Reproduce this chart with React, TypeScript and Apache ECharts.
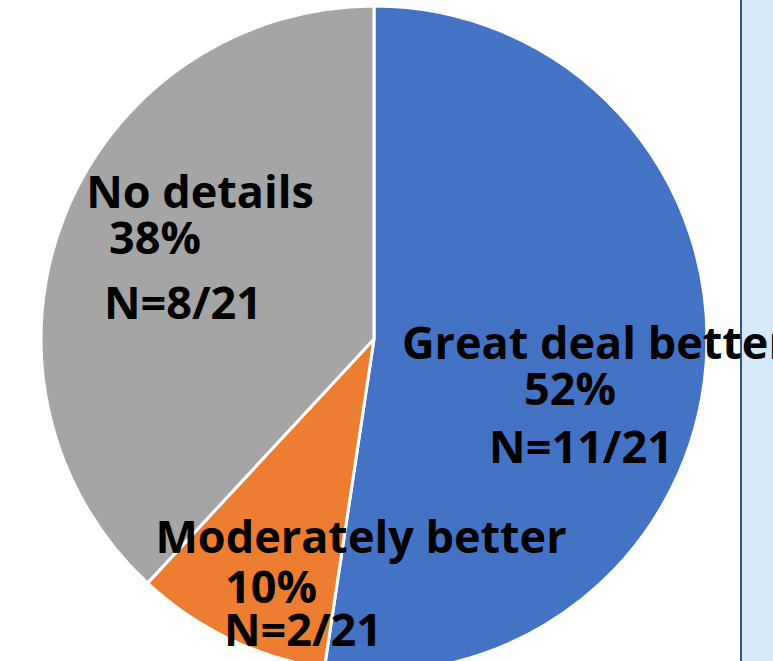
import React, { useEffect, useRef } from "react";
import * as echarts from "echarts";

const names = ["Great deal better", "Moderately better", "No details"];
const counts = [11, 2, 8];
const total = 21;
const colors = ["#4472C4", "#ED7D31", "#A5A5A5"];

// label layout per slice: [x, baseline, align] for each of three lines
const labelPos: [number, number, string][][] = [
  [[402, 358, "left"], [570, 404, "center"], [581, 462, "center"]],
  [[361, 552, "center"], [271, 602, "center"], [303, 645, "center"]],
  [[200, 207, "center"], [155, 253, "center"], [183, 318, "center"]],
];

const FS = 45;
const FONT = "'Open Sans', sans-serif";

export default function App() {
  const ref = useRef<HTMLDivElement>(null);
  useEffect(() => {
    document.body.style.margin = "0";
    const chart = echarts.init(ref.current!, null, { renderer: "svg" });
    const texts: any[] = [];
    names.forEach((n, i) => {
      const pct = Math.round((counts[i] / total) * 100);
      const lines = [n, `${pct}%`, `N=${counts[i]}/${total}`];
      lines.forEach((t, j) => {
        const [x, base, align] = labelPos[i][j];
        texts.push({
          type: "text",
          z: 100,
          x,
          y: base - FS * 0.36,
          style: {
            text: t,
            fill: "#000",
            font: `bold ${FS}px ${FONT}`,
            lineHeight: 38,
            align,
            verticalAlign: "middle",
          },
        });
      });
    });
    chart.setOption({
      animation: false,
      backgroundColor: "#fff",
      graphic: [
        {
          type: "rect",
          z: 0,
          shape: { x: 741, y: -2, width: 40, height: 670 },
          style: { fill: "#D6E9FA", stroke: "#2F5597", lineWidth: 2 },
        },
        ...texts,
      ],
      series: [
        {
          type: "pie",
          center: [374, 339],
          radius: 333,
          startAngle: 90,
          clockwise: true,
          label: { show: false },
          labelLine: { show: false },
          emphasis: { disabled: true },
          itemStyle: { borderColor: "#fff", borderWidth: 3 },
          data: names.map((n, i) => ({
            name: n,
            value: counts[i],
            itemStyle: { color: colors[i] },
          })),
        },
      ],
    });
    return () => chart.dispose();
  }, []);
  return <div ref={ref} style={{ width: 773, height: 661 }} />;
}
